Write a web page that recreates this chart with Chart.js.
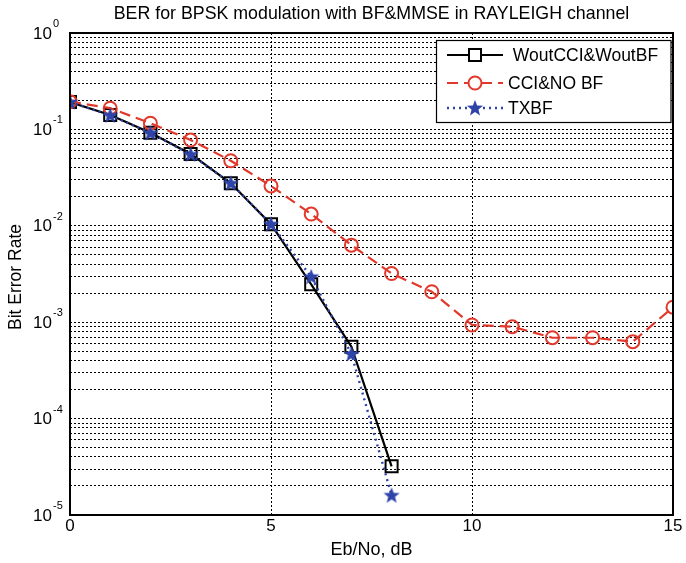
<!DOCTYPE html>
<html><head><meta charset="utf-8">
<style>html,body{margin:0;padding:0;background:#fff;} canvas{display:block;}</style>
<script src="https://cdn.jsdelivr.net/npm/chart.js@4.4.1/dist/chart.umd.min.js"></script>
</head><body>
<canvas id="c" width="686" height="563"></canvas>
<script>
// ---------- data ----------
const snrDb = [0,1,2,3,4,5,6,7,8,9,10,11,12,13,14,15];
const berWoutCciWoutBf = [0.192, 0.141, 0.0925, 0.0556, 0.0276, 0.0104, 0.00247, 0.000557, 0.000032];
const berCciNoBf = [0.194, 0.166, 0.116, 0.0776, 0.0473, 0.0259, 0.01325, 0.0063, 0.0032, 0.00207, 0.000935, 0.000898, 0.00069, 0.00069, 0.000628, 0.00143];
const berTxbf = [0.192, 0.14, 0.092, 0.055, 0.0276, 0.0104, 0.00296, 0.000468, 0.000016];
const seriesLabels = [' WoutCCI&WoutBF', 'CCI&NO BF', 'TXBF'];
const xTickValues = [0, 5, 10, 15];
const yDecadeExponents = [0, -1, -2, -3, -4, -5];
const titleText = 'BER for BPSK modulation with BF&MMSE in RAYLEIGH channel';
const xTitleText = 'Eb/No, dB';
const yTitleText = 'Bit Error Rate';

const FONT = '"Liberation Sans", Arial, Helvetica, sans-serif';
const RED = '#e2382b';
const BLUE = '#2e44a8';

function pts(ys){ return ys.map((y,i)=>({x:snrDb[i], y})); }

function makeStar(size, color){
  const c=document.createElement('canvas'); c.width=c.height=size;
  const g=c.getContext('2d'); const cx=size/2, cy=size/2+0.5, R=size/2-0.5, r=R*0.42;
  g.beginPath();
  for(let i=0;i<10;i++){const a=-Math.PI/2+i*Math.PI/5; const rad=(i%2)?r:R; g.lineTo(cx+rad*Math.cos(a), cy+rad*Math.sin(a));}
  g.closePath(); g.fillStyle=color; g.fill(); return c;
}
const starImg = makeStar(18, BLUE);

// minor + major log ticks
const yTickValues = [];
for (let k=-5; k<0; k++) for (let m=1; m<10; m++) yTickValues.push(m*Math.pow(10,k));
yTickValues.push(1);

const gridColor = '#000';

const overlay = {
  id: 'overlay',
  afterDraw(chart){
    const ctx = chart.ctx, a = chart.chartArea;
    const xs = chart.scales.x, ys = chart.scales.y;
    ctx.save();
    // frame
    ctx.strokeStyle = '#000'; ctx.lineWidth = 2; ctx.setLineDash([]);
    ctx.strokeRect(a.left, a.top, a.right-a.left, a.bottom-a.top);
    ctx.fillStyle = '#000';
    // title
    ctx.font = '17.8px ' + FONT; ctx.textAlign='center'; ctx.textBaseline='alphabetic';
    ctx.fillText(titleText, (a.left+a.right)/2, 19);
    // x ticks
    ctx.font = '17px ' + FONT;
    xTickValues.forEach(v => ctx.fillText(String(v), xs.getPixelForValue(v), 531));
    // x title
    ctx.font = '18px ' + FONT;
    ctx.fillText(xTitleText, (a.left+a.right)/2, 555);
    // y ticks
    yDecadeExponents.forEach(e => {
      const y = ys.getPixelForValue(Math.pow(10,e));
      ctx.font = '17px ' + FONT; ctx.textAlign='right'; ctx.textBaseline='middle';
      ctx.fillText('10', 52, y+1);
      ctx.font = '11px ' + FONT; ctx.textAlign='left';
      ctx.fillText(String(e), 53, y-9);
    });
    // y title
    ctx.save();
    ctx.translate(16, (a.top+a.bottom)/2 + 3);
    ctx.rotate(-Math.PI/2);
    ctx.font = '17.5px ' + FONT; ctx.textAlign='center'; ctx.textBaseline='middle';
    ctx.fillText(yTitleText, 0, 0);
    ctx.restore();
    // legend
    const bx=436.5, by=40.5, bw=234.5, bh=82;
    ctx.fillStyle='#fff'; ctx.fillRect(bx,by,bw,bh);
    ctx.strokeStyle='#000'; ctx.lineWidth=1.2; ctx.strokeRect(bx,by,bw,bh);
    const rows=[55,83,108];
    chart.data.datasets.forEach((ds,i)=>{
      const y=rows[i];
      ctx.strokeStyle=ds.borderColor; ctx.lineWidth=ds.borderWidth; ctx.setLineDash(ds.borderDash||[]);
      ctx.beginPath(); ctx.moveTo(447,y); ctx.lineTo(503,y); ctx.stroke();
      ctx.setLineDash([]);
      const mx=475;
      if (ds.pointStyle==='rect'){
        const s=Math.SQRT1_2*ds.pointRadius;
        ctx.fillStyle='#fff'; ctx.fillRect(mx-s,y-s,2*s,2*s);
        ctx.lineWidth=ds.pointBorderWidth; ctx.strokeStyle=ds.pointBorderColor; ctx.strokeRect(mx-s,y-s,2*s,2*s);
      } else if (ds.pointStyle==='circle'){
        ctx.fillStyle='#fff'; ctx.beginPath(); ctx.arc(mx,y,ds.pointRadius,0,Math.PI*2); ctx.fill();
        ctx.lineWidth=ds.pointBorderWidth; ctx.strokeStyle=ds.pointBorderColor; ctx.stroke();
      } else {
        ctx.drawImage(ds.pointStyle, mx-ds.pointStyle.width/2, y-ds.pointStyle.height/2);
      }
      ctx.fillStyle='#000'; ctx.font='17.5px '+FONT; ctx.textAlign='left'; ctx.textBaseline='middle';
      ctx.fillText(ds.label, 508, y+1);
    });
    ctx.restore();
  }
};

new Chart(document.getElementById('c'), {
  type: 'line',
  data: {
    datasets: [
      { label: seriesLabels[0], data: pts(berWoutCciWoutBf), borderColor:'#000', borderWidth:2.2,
        pointStyle:'rect', pointRadius:8.5, pointBorderWidth:2, pointBorderColor:'#000', pointBackgroundColor:'rgba(0,0,0,0)', order:3, tension:0 },
      { label: seriesLabels[1], data: pts(berCciNoBf), borderColor:RED, borderWidth:2.2, borderDash:[11,6],
        pointStyle:'circle', pointRadius:6.5, pointBorderWidth:2, pointBorderColor:RED, pointBackgroundColor:'rgba(0,0,0,0)', order:2, tension:0 },
      { label: seriesLabels[2], data: pts(berTxbf), borderColor:BLUE, borderWidth:2.4, borderDash:[2,4],
        pointStyle:starImg, pointRadius:8, pointBorderWidth:0, order:1, tension:0 }
    ]
  },
  options: {
    responsive:false, animation:false, devicePixelRatio:1,
    layout:{ padding:{ top:33, right:13, left:0, bottom:0 } },
    plugins:{ legend:{display:false}, title:{display:false}, tooltip:{enabled:false} },
    scales:{
      x:{ type:'linear', min:0, max:15,
          ticks:{ display:false, stepSize:5 },
          afterBuildTicks: s => { s.ticks = xTickValues.map(v=>({value:v})); },
          afterFit: s => { s.height = 48; },
          grid:{ color:gridColor, lineWidth:1, drawTicks:false },
          border:{ display:false, dash:[2,2] } },
      y:{ type:'logarithmic', min:1e-5, max:1,
          ticks:{ display:false },
          afterBuildTicks: s => { s.ticks = yTickValues.map(v=>({value:v})); },
          afterFit: s => { s.width = 70; },
          grid:{ color:gridColor, lineWidth:1, drawTicks:false },
          border:{ display:false, dash:[2,2] } }
    }
  },
  plugins:[overlay]
});
</script>
</body></html>
